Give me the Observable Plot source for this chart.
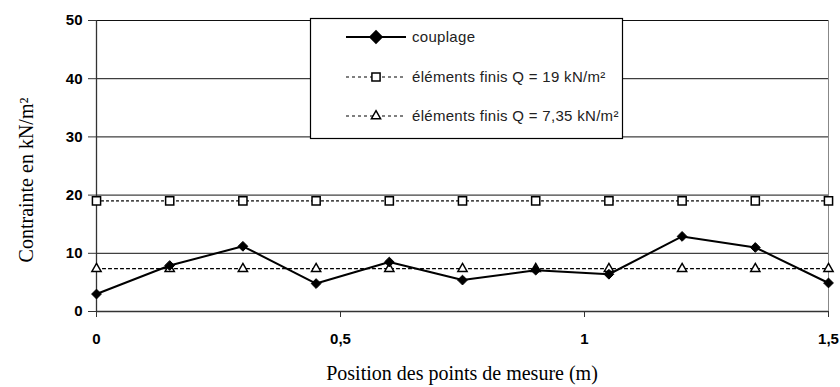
<!DOCTYPE html>
<html><head><meta charset="utf-8">
<script src="https://cdn.jsdelivr.net/npm/d3@7"></script>
<script src="https://cdn.jsdelivr.net/npm/@observablehq/plot@0.6"></script>
<style>body{margin:0;background:#fff}</style>
</head><body><div id="chart"></div>
<script>
const positions = [0, 0.15, 0.3, 0.45, 0.6, 0.75, 0.9, 1.05, 1.2, 1.35, 1.5];
const couplage = [3.0, 7.9, 11.2, 4.8, 8.5, 5.4, 7.1, 6.4, 12.9, 11.0, 4.9];
const ef19 = [19, 19, 19, 19, 19, 19, 19, 19, 19, 19, 19];
const ef735 = [7.35, 7.35, 7.35, 7.35, 7.35, 7.35, 7.35, 7.35, 7.35, 7.35, 7.35];
const seriesNames = ["couplage", "éléments finis Q = 19 kN/m²", "éléments finis Q = 7,35 kN/m²"];
const yTicks = [0, 10, 20, 30, 40, 50];
const xTicks = [0, 0.5, 1, 1.5];
const xTickLabels = ["0", "0,5", "1", "1,5"];
const xTitle = "Position des points de mesure (m)";
const yTitle = "Contrainte en kN/m²";

const rows = (vals) => positions.map((x, i) => ({x, y: vals[i]}));
const dC = rows(couplage), d19 = rows(ef19), d7 = rows(ef735);

const W = 840, H = 387, mL = 96, mR = 12, mT = 20, mB = 76;

const chart = Plot.plot({
  width: W, height: H,
  marginLeft: mL, marginRight: mR, marginTop: mT, marginBottom: mB,
  style: {background: "#fff", fontFamily: "'Liberation Sans', Arial, sans-serif", color: "#000"},
  x: {domain: [0, 1.5], label: null},
  y: {domain: [0, 50], label: null},
  marks: [
    Plot.ruleY(yTicks.slice(1), {stroke: "#111", strokeWidth: 1}),
    Plot.ruleX([1.5], {stroke: "#888", strokeWidth: 1}),
    Plot.ruleX([0], {stroke: "#333", strokeWidth: 1.3}),
    Plot.ruleY([0], {stroke: "#333", strokeWidth: 1.3}),
    Plot.axisY({ticks: yTicks, tickSize: 8, tickPadding: 6, fontSize: 15, fontWeight: "bold", stroke: "#333", label: null}),
    Plot.axisX({ticks: xTicks, tickSize: 6, tickPadding: 16, fontSize: 15, fontWeight: "bold", stroke: "#333",
      tickFormat: (d) => xTickLabels[xTicks.indexOf(d)], label: null}),
    Plot.line(d19, {x: "x", y: "y", stroke: "#000", strokeWidth: 1.2, strokeDasharray: "2,3"}),
    Plot.line(d7, {x: "x", y: "y", stroke: "#000", strokeWidth: 1.2, strokeDasharray: "3,3"}),
    Plot.line(dC, {x: "x", y: "y", stroke: "#000", strokeWidth: 2}),
    Plot.dot(d19, {x: "x", y: "y", symbol: "square2", r: 5.2, fill: "#fff", stroke: "#000", strokeWidth: 1.5}),
    Plot.dot(d7, {x: "x", y: "y", symbol: "triangle2", r: 4.4, fill: "#fff", stroke: "#000", strokeWidth: 1.5}),
    Plot.dot(dC, {x: "x", y: "y", symbol: "diamond2", r: 4.4, fill: "#000", stroke: "#000", strokeWidth: 1})
  ]
});

const svg = d3.select(chart);
// axis titles
svg.append("text").attr("x", (mL + W - mR) / 2).attr("y", 380)
  .attr("text-anchor", "middle").attr("font-family", "'Liberation Serif', 'Times New Roman', serif")
  .attr("font-size", 20).attr("fill", "#000").text(xTitle);
svg.append("text").attr("transform", "translate(33,180) rotate(-90)")
  .attr("text-anchor", "middle").attr("font-family", "'Liberation Serif', 'Times New Roman', serif")
  .attr("font-size", 20).attr("fill", "#000").text(yTitle);

// legend
const lg = svg.append("g");
lg.append("rect").attr("x", 310.5).attr("y", 18.5).attr("width", 312).attr("height", 120)
  .attr("fill", "#fff").attr("stroke", "#000").attr("stroke-width", 1.2);
const entries = [
  {name: seriesNames[0], y: 37, dash: null, sym: d3.symbolDiamond2, size: 95, fill: "#000", sw: 2},
  {name: seriesNames[1], y: 77, dash: "3,3", sym: d3.symbolSquare2, size: 85, fill: "#fff", sw: 1.2},
  {name: seriesNames[2], y: 116, dash: "3,3", sym: d3.symbolTriangle2, size: 60, fill: "#fff", sw: 1.2}
];
for (const e of entries) {
  lg.append("line").attr("x1", 346).attr("x2", 406).attr("y1", e.y).attr("y2", e.y)
    .attr("stroke", "#000").attr("stroke-width", e.sw).attr("stroke-dasharray", e.dash);
  lg.append("path").attr("transform", `translate(376,${e.y})`).attr("d", d3.symbol(e.sym, e.size)())
    .attr("fill", e.fill).attr("stroke", "#000").attr("stroke-width", 1.5);
  lg.append("text").attr("x", 412).attr("y", e.y + 5).attr("font-size", 15)
    .attr("text-anchor", "start").attr("letter-spacing", 0.3)
    .attr("font-family", "'Liberation Sans', Arial, sans-serif").attr("fill", "#222").text(e.name);
}

document.getElementById("chart").appendChild(chart);
</script>
</body></html>
